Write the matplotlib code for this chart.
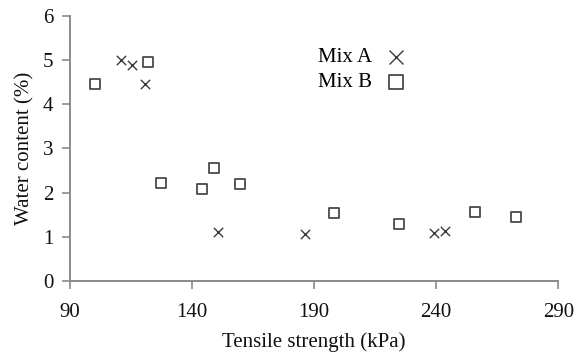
import matplotlib
matplotlib.use('Agg')
import matplotlib.pyplot as plt

# tensile strength (kPa) vs water content (%)
mix_a_strength = [111.0, 115.5, 120.8, 150.7, 186.1, 238.9, 243.7]
mix_a_water = [5.00, 4.88, 4.45, 1.11, 1.06, 1.08, 1.12]

mix_b_strength = [100.3, 122.0, 127.2, 143.9, 149.0, 159.8, 198.3, 224.7, 256.0, 272.5]
mix_b_water = [4.45, 4.95, 2.21, 2.07, 2.55, 2.19, 1.53, 1.29, 1.56, 1.44]

x_ticks = [90, 140, 190, 240, 290]
y_ticks = [0, 1, 2, 3, 4, 5, 6]

plt.rcParams['font.family'] = ['Liberation Serif', 'DejaVu Serif']
axis_grey = '#8a8a8a'

fig = plt.figure(figsize=(5.76, 3.56), dpi=100)
ax = fig.add_axes([0.1215, 0.2107, 0.8478, 0.7453])

ax.scatter(mix_a_strength, mix_a_water, marker='x', s=45, linewidths=1.0,
           color='#3a3a3a', label='Mix A')
ax.scatter(mix_b_strength, mix_b_water, marker='s', s=50, linewidths=1.3,
           facecolors='white', edgecolors='#4a4a4a', label='Mix B')

ax.set_xlim(90, 290)
ax.set_ylim(0, 6)
ax.set_xticks(x_ticks)
ax.set_yticks(y_ticks)

for side in ['top', 'right']:
    ax.spines[side].set_visible(False)
for side in ['left', 'bottom']:
    ax.spines[side].set_color(axis_grey)
    ax.spines[side].set_linewidth(1.4)
ax.tick_params(direction='out', length=6, width=1.2, color=axis_grey,
               labelsize=15, labelcolor='#111111')
ax.tick_params(axis='x', pad=9.5)
ax.tick_params(axis='y', pad=6)

ax.set_xlabel('Tensile strength (kPa)', fontsize=15, color='#111111', labelpad=8)
ax.set_ylabel('Water content (%)', fontsize=15, color='#111111', labelpad=6)

leg = ax.legend(loc='upper left', bbox_to_anchor=(0.49, 0.91), frameon=False,
                markerfirst=False, fontsize=15, handletextpad=0.15,
                labelspacing=0.25, markerscale=1.5, borderaxespad=0)

fig.savefig('out.png', dpi=100)
